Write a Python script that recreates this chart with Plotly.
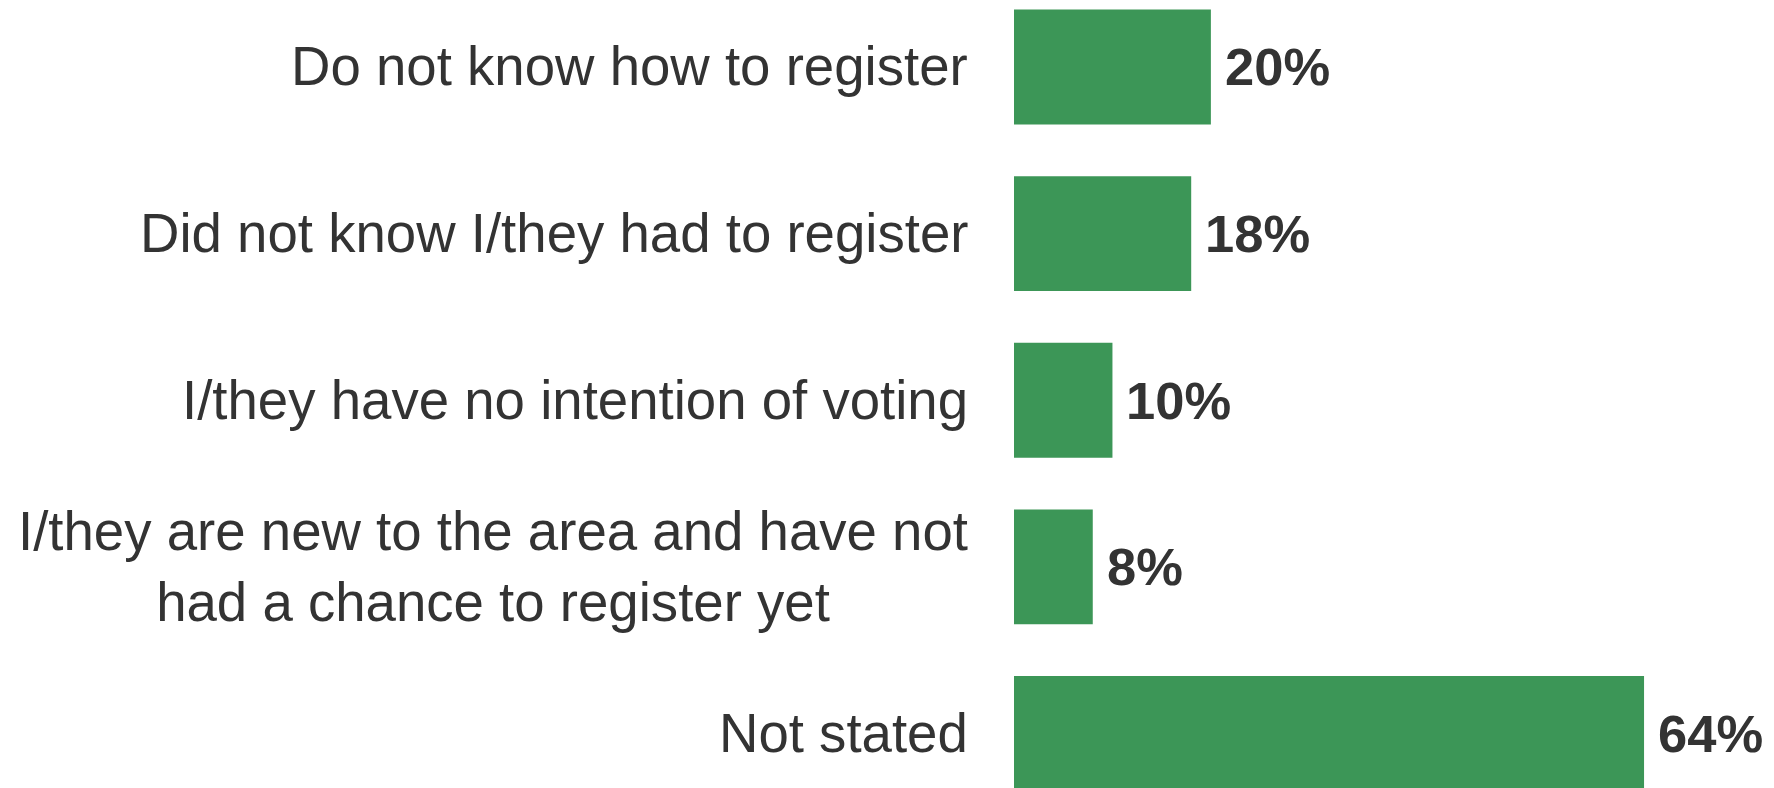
import plotly.graph_objects as go

# Reasons given for not being registered to vote
categories = [
    "Do not know how to register",
    "Did not know I/they had to register",
    "I/they have no intention of voting",
    "I/they are new to the area and have not<br>had a chance to register yet",
    "Not stated",
]
values = [20, 18, 10, 8, 64]
value_labels = ["20%", "18%", "10%", "8%", "64%"]

BAR_COLOR = "#3C9657"
TEXT_COLOR = "#333333"
FONT = "Liberation Sans, Arial, Helvetica, sans-serif"

positions = list(range(len(categories)))

fig = go.Figure(
    go.Bar(
        x=values,
        y=positions,
        orientation="h",
        marker=dict(color=BAR_COLOR, line=dict(width=0)),
        width=0.69,
        hoverinfo="skip",
    )
)

# Category labels, right-aligned against the bars, multi-line labels centred
for pos, name in zip(positions, categories):
    fig.add_annotation(
        x=0, y=pos, xref="x", yref="y",
        text=name, showarrow=False,
        xanchor="right", yanchor="middle", align="center",
        xshift=-44,
        font=dict(family=FONT, size=54.6, color=TEXT_COLOR),
    )

# Value labels at the end of each bar
for pos, val, lab in zip(positions, values, value_labels):
    fig.add_annotation(
        x=val, y=pos, xref="x", yref="y",
        text=f"<b>{lab}</b>", showarrow=False,
        xanchor="left", yanchor="middle",
        xshift=12,
        font=dict(family=FONT, size=52.5, color=TEXT_COLOR),
    )

fig.update_layout(
    width=1774,
    height=788,
    margin=dict(l=1014, r=0, t=0, b=0),
    paper_bgcolor="white",
    plot_bgcolor="white",
    showlegend=False,
    xaxis=dict(range=[0, 77.2], visible=False, fixedrange=True),
    yaxis=dict(range=[4.327, -0.402], visible=False, fixedrange=True),
)

fig.write_html("out.html", config={"displayModeBar": False})
